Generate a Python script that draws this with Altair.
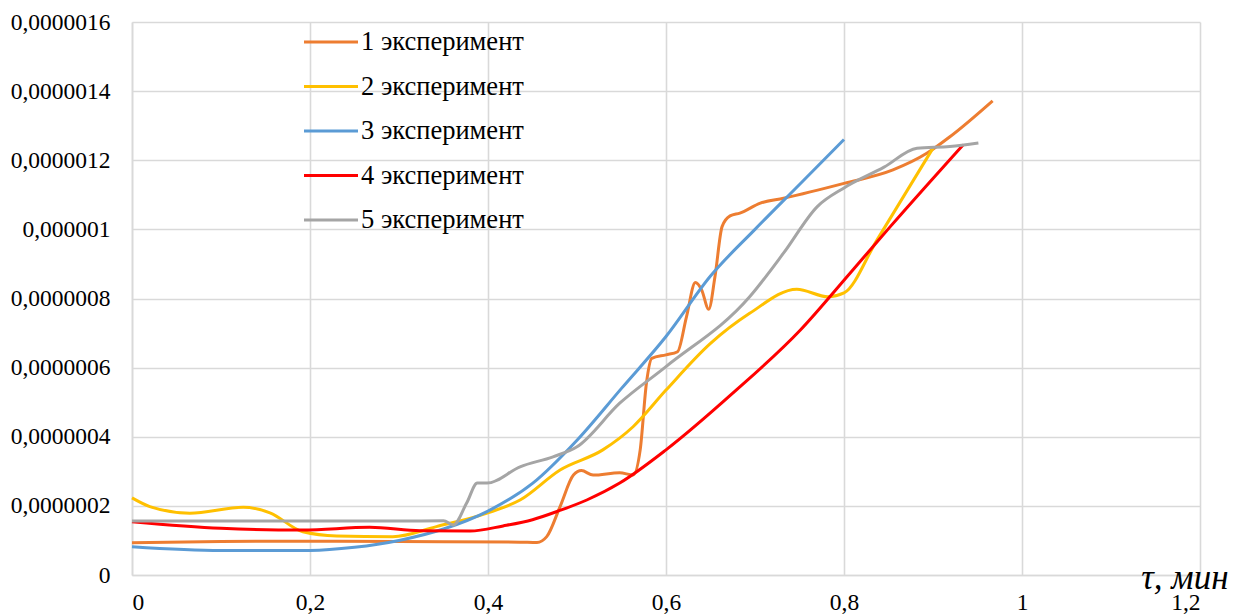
import altair as alt
import pandas as pd

SCALE = 1e-6

series_names = ["1 эксперимент", "2 эксперимент", "3 эксперимент", "4 эксперимент", "5 эксперимент"]
colors = ["#ED7D31", "#FFC000", "#5B9BD5", "#FF0000", "#A5A5A5"]

x1 = [0, 0.1, 0.2, 0.3, 0.436, 0.455, 0.466, 0.481, 0.496, 0.505, 0.518, 0.548, 0.563, 0.571, 0.578,
      0.584, 0.6, 0.613, 0.623, 0.633, 0.64, 0.648, 0.655, 0.663, 0.672, 0.683, 0.706, 0.732, 0.8,
      0.855, 0.893, 0.919, 0.967]
y1 = [0.093, 0.097, 0.098, 0.097, 0.095, 0.094, 0.111, 0.198, 0.289, 0.302, 0.289, 0.296, 0.289, 0.362,
      0.555, 0.627, 0.637, 0.646, 0.747, 0.846, 0.825, 0.769, 0.863, 1.008, 1.039, 1.047, 1.076, 1.09,
      1.133, 1.172, 1.22, 1.268, 1.372]

x2 = [0, 0.02, 0.065, 0.125, 0.155, 0.192, 0.23, 0.293, 0.342, 0.399, 0.436, 0.481, 0.529, 0.563,
      0.6, 0.65, 0.694, 0.747, 0.782, 0.8, 0.837, 0.9]
y2 = [0.223, 0.198, 0.179, 0.196, 0.18, 0.125, 0.113, 0.111, 0.14, 0.179, 0.217, 0.304, 0.362, 0.429,
      0.535, 0.67, 0.757, 0.827, 0.805, 0.816, 0.969, 1.235]

x3 = [0, 0.1, 0.2, 0.25, 0.3, 0.35, 0.4, 0.45, 0.5, 0.55, 0.6, 0.65, 0.7, 0.75, 0.8]
y3 = [0.082, 0.071, 0.071, 0.08, 0.1, 0.133, 0.185, 0.265, 0.39, 0.54, 0.69, 0.865, 1.0, 1.13, 1.26]

x4 = [0, 0.1, 0.192, 0.267, 0.324, 0.38, 0.417, 0.45, 0.48, 0.511, 0.548, 0.6, 0.675, 0.751, 0.807,
      0.852, 0.934]
y4 = [0.154, 0.135, 0.13, 0.138, 0.128, 0.127, 0.142, 0.16, 0.186, 0.217, 0.266, 0.362, 0.526, 0.709,
      0.874, 1.008, 1.245]

x5 = [0, 0.1, 0.2, 0.3, 0.35, 0.361, 0.376, 0.388, 0.399, 0.436, 0.473, 0.5, 0.548, 0.6, 0.694,
      0.732, 0.77, 0.8, 0.845, 0.882, 0.919, 0.951]
y5 = [0.156, 0.156, 0.156, 0.156, 0.157, 0.145, 0.208, 0.266, 0.266, 0.313, 0.342, 0.371, 0.497,
      0.603, 0.805, 0.931, 1.066, 1.12, 1.18, 1.235, 1.24, 1.25]

x_ticks = [0, 0.2, 0.4, 0.6, 0.8, 1.0, 1.2]
y_ticks = [0, 2e-7, 4e-7, 6e-7, 8e-7, 1e-6, 1.2e-6, 1.4e-6, 1.6e-6]

rows = []
for name, xs, ys in zip(series_names, [x1, x2, x3, x4, x5], [y1, y2, y3, y4, y5]):
    for i, (xv, yv) in enumerate(zip(xs, ys)):
        rows.append({"series": name, "x": xv, "y": yv * SCALE, "order": i})
df = pd.DataFrame(rows)

FONT = "Liberation Serif"

chart = alt.Chart(df).mark_line(strokeWidth=3, interpolate="monotone").encode(
    x=alt.X("x:Q",
            scale=alt.Scale(domain=[0, 1.2], nice=False),
            axis=alt.Axis(values=x_ticks, labelExpr="replace(format(datum.value, '~g'), '.', ',')",
                          title="τ, мин", titleFont=FONT, titleFontSize=35, titleFontStyle="italic",
                          titleFontWeight="normal", titleAlign="right", titleBaseline="alphabetic",
                          titleAnchor="end", titleX=1096, titleY=13, titleColor="#000000",
                          labelPadding=15, labelFont=FONT, labelFontSize=23.5,
                          labelColor="#000000", labelFontWeight="normal")),
    y=alt.Y("y:Q",
            scale=alt.Scale(domain=[0, 1.6e-6], nice=False),
            axis=alt.Axis(values=y_ticks, labelExpr="replace(format(datum.value, '.7~f'), '.', ',')",
                          title=None, labelPadding=22, labelFont=FONT, labelFontSize=23.5,
                          labelColor="#000000", labelFontWeight="normal")),
    color=alt.Color("series:N",
                    scale=alt.Scale(domain=series_names, range=colors),
                    legend=alt.Legend(title=None, orient="none", legendX=184, legendY=5,
                                      symbolType="M-2,0H2", symbolSize=729, symbolStrokeWidth=3,
                                      labelFont=FONT, labelFontSize=26.5, labelColor="#000000",
                                      labelFontWeight="normal",
                                      labelOffset=15, rowPadding=15.5, labelLimit=400)),
    order="order:Q",
).properties(
    width=1068, height=553,
    background="#ffffff",
    autosize=alt.AutoSizeParams(type="none"),
    padding={"left": 124, "top": 14, "right": 36, "bottom": 40},
).configure_axis(
    grid=True, gridColor="#D9D9D9", gridWidth=1.6,
    domainColor="#D9D9D9", domainWidth=1.6, ticks=False,
).configure_view(strokeWidth=0)

chart.save("out.html", embed_options={"renderer": "svg", "actions": False})
